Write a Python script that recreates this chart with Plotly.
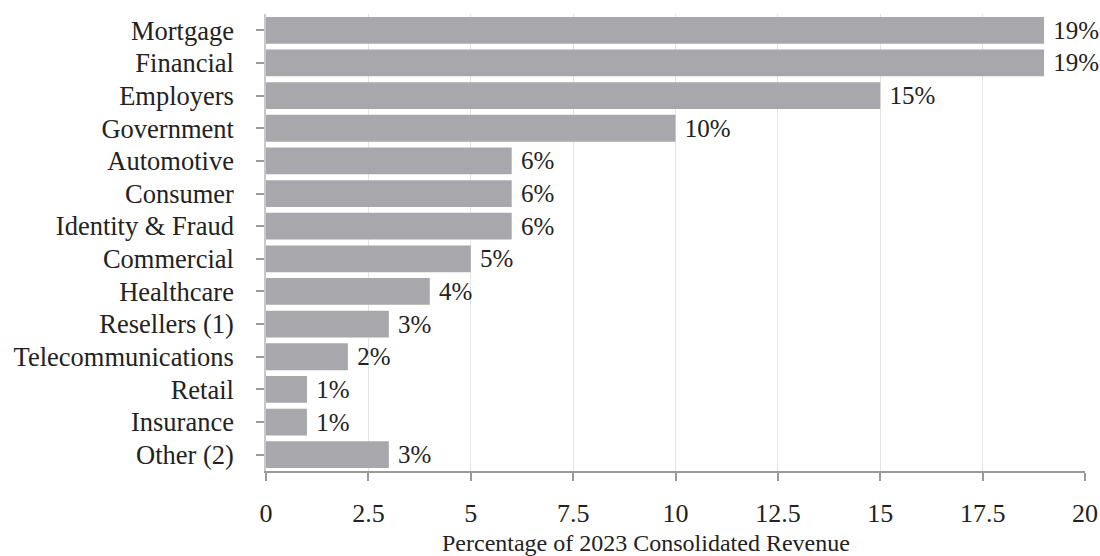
import plotly.graph_objects as go

categories = ["Mortgage", "Financial", "Employers", "Government", "Automotive", "Consumer",
              "Identity & Fraud", "Commercial", "Healthcare", "Resellers (1)",
              "Telecommunications", "Retail", "Insurance", "Other (2)"]
values = [19, 19, 15, 10, 6, 6, 6, 5, 4, 3, 2, 1, 1, 3]
labels = [f"{v}%" for v in values]
x_ticks = [0, 2.5, 5, 7.5, 10, 12.5, 15, 17.5, 20]
x_title = "Percentage of 2023 Consolidated Revenue"

FONT = "Liberation Serif, Times New Roman, serif"
FS = 26
TXT = "#222222"

fig = go.Figure(go.Bar(
    y=categories, x=values, orientation="h",
    marker=dict(color="#a8a8ac", line=dict(width=0)),
    text=labels, texttemplate="\u00a0%{text}",
    textposition="outside", cliponaxis=False, constraintext="none",
    textfont=dict(family=FONT, size=25, color=TXT),
))

fig.update_layout(
    width=1100, height=556,
    margin=dict(l=266, r=15, t=14, b=85, autoexpand=False),
    plot_bgcolor="white", paper_bgcolor="white",
    bargap=0.18,
    font=dict(family=FONT, size=FS, color=TXT),
    showlegend=False,
    xaxis=dict(
        range=[0, 20], tickvals=x_ticks, ticktext=[str(t) for t in x_ticks],
        showgrid=True, gridcolor="#e4e4e4", gridwidth=1,
        showline=True, linecolor="#9a9a9a", linewidth=2,
        ticks="outside", ticklen=8, tickcolor="#9a9a9a", tickwidth=1.5,
        zeroline=False, automargin=False, ticklabelstandoff=10,
        tickfont=dict(family=FONT, size=FS, color=TXT),
    ),
    yaxis=dict(
        categoryorder="array", categoryarray=categories, autorange="reversed",
        showline=True, linecolor="#c8c8c8", linewidth=1.5,
        ticks="outside", ticklen=8, tickcolor="#9a9a9a", tickwidth=1.5,
        showgrid=False, automargin=False, ticklabelstandoff=17,
        tickfont=dict(family=FONT, size=26.5, color=TXT),
    ),
    annotations=[dict(
        text=x_title, xref="paper", yref="paper", x=0.464, y=-0.1575,
        xanchor="center", yanchor="middle", showarrow=False,
        font=dict(family=FONT, size=24, color=TXT),
    )],
)

fig.write_html("out.html", config={"displayModeBar": False},
               post_script="document.body.style.margin='0';document.body.style.overflow='hidden';")
